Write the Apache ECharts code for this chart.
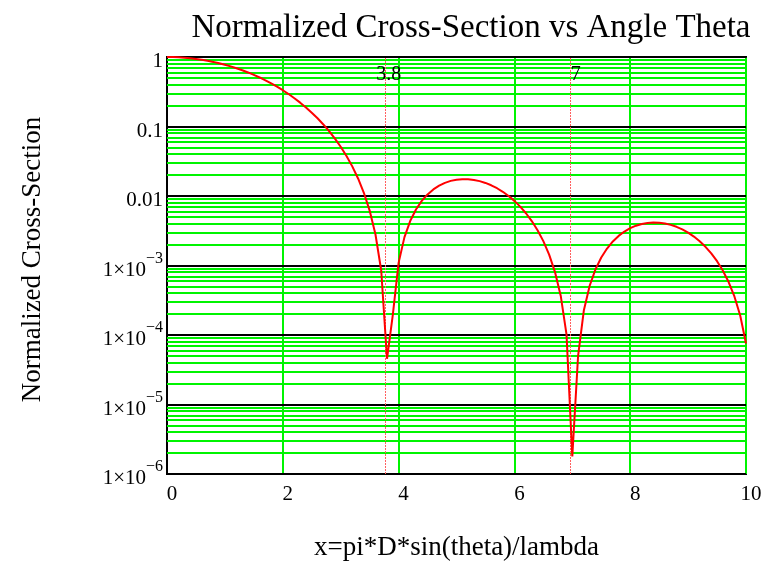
<!DOCTYPE html>
<html>
<head>
<meta charset="utf-8">
<script src="https://cdn.jsdelivr.net/npm/echarts@6/dist/echarts.min.js"></script>
<style>html,body{margin:0;padding:0;background:#fff}#c{width:769px;height:566px}</style>
</head>
<body>
<div id="c"></div>
<script>
var xs = [0,0.1,0.2,0.3,0.4,0.5,0.6,0.7,0.8,0.9,1,1.1,1.2,1.3,1.4,1.5,1.6,1.7,1.8,1.9,2,2.1,2.2,2.3,2.4,2.5,2.6,2.7,2.8,2.9,3,3.1,3.2,3.3,3.4,3.5,3.6,3.7,3.8,3.9,4,4.1,4.2,4.3,4.4,4.5,4.6,4.7,4.8,4.9,5,5.1,5.2,5.3,5.4,5.5,5.6,5.7,5.8,5.9,6,6.1,6.2,6.3,6.4,6.5,6.6,6.7,6.8,6.9,7,7.1,7.2,7.3,7.4,7.5,7.6,7.7,7.8,7.9,8,8.1,8.2,8.3,8.4,8.5,8.6,8.7,8.8,8.9,9,9.1,9.2,9.3,9.4,9.5,9.6,9.7,9.8,9.9,10];
var crossSection = [1,0.9976,0.99003,0.97773,0.96069,0.93912,0.9133,0.8836,0.85027,0.8138,0.77458,0.73305,0.6897,0.64499,0.5994,0.55342,0.50748,0.46203,0.41749,0.37424,0.33261,0.29293,0.25545,0.22038,0.18791,0.15814,0.13117,0.107,0.08564,0.06704,0.05109,0.03769,0.02668,0.01788,0.01112,0.006163,0.002813,0.000847,4.55e-5,1.951e-4,0.00109,0.002538,0.004359,0.006393,0.008496,0.010546,0.012442,0.014103,0.015469,0.016498,0.017169,0.017476,0.017426,0.017044,0.016359,0.015416,0.014257,0.012936,0.011503,0.010009,0.008506,0.007037,0.005645,0.004364,0.003222,0.002241,0.001434,0.00081,0.000368,1.023e-4,1.79e-6,5.02e-5,2.278e-4,5.118e-4,8.779e-4,0.0013008,0.0017554,0.0022178,0.0026658,0.003079,0.003441,0.0037379,0.0039598,0.0041004,0.0041569,0.0041299,0.0040234,0.0038446,0.0036019,0.0033069,0.0029717,0.0026096,0.0022338,0.0018575,0.0014934,0.0011525,8.449e-4,5.784e-4,3.59e-4,1.908e-4,7.56e-5];
var markerX = [3.77, 6.97];
var markerLabels = ['3.8', '7'];
var markerLabelPos = [[3.83, 0.55], [7.06, 0.55]];
var xTicks = [0, 2, 4, 6, 8, 10];
var yDecadeExps = [-6, -5, -4, -3, -2, -1, 0];
var titleText = 'Normalized Cross-Section vs Angle Theta';
var xName = 'x=pi*D*sin(theta)/lambda';
var yName = 'Normalized Cross-Section';

var FONT = "'Liberation Serif','Times New Roman',serif";
var GREEN = '#00f400';
var data = xs.map(function (x, i) { return [x, crossSection[i]]; });

// minor log grid lines (2..9 within each decade), placed on a hidden linear exponent axis
var minorLines = [];
for (var d = 0; d < yDecadeExps.length - 1; d++) {
  for (var k = 2; k <= 9; k++) minorLines.push({ yAxis: yDecadeExps[d] + Math.log10(k) });
}

function yLabel(v) {
  var e = Math.round(Math.log10(v));
  if (e >= -2) return '{b|' + (e === 0 ? '1' : e === -1 ? '0.1' : '0.01') + '}';
  return '{b|1×10}{s|−' + (-e) + '}';
}

var chart = echarts.init(document.getElementById('c'), null, { renderer: 'canvas' });
chart.setOption({
  animation: false,
  backgroundColor: '#fff',
  title: {
    text: titleText, left: 466, top: 7, textAlign: 'center',
    textStyle: { fontFamily: FONT, fontSize: 33, fontWeight: 'normal', color: '#000' }
  },
  grid: { left: 167, right: 23, top: 57, bottom: 90, show: true, borderColor: '#000', borderWidth: 2, backgroundColor: 'transparent' },
  xAxis: {
    type: 'value', min: 0, max: 10, interval: 2,
    name: xName, nameLocation: 'middle', nameGap: 60,
    nameTextStyle: { fontFamily: FONT, fontSize: 27, color: '#000' },
    axisLine: { show: true, lineStyle: { color: '#000', width: 2 } },
    axisTick: { show: false },
    axisLabel: { fontFamily: FONT, fontSize: 21, color: '#000', margin: 10, padding: [0, 0, 0, 10],
      formatter: function (v) { return xTicks.indexOf(v) >= 0 ? String(v) : ''; } },
    splitLine: { show: true, lineStyle: { color: GREEN, width: 2 } }
  },
  yAxis: [{
    type: 'log', logBase: 10, min: 1e-6, max: 1, splitNumber: 6,
    name: yName, nameLocation: 'middle', nameGap: 121, nameRotate: 90,
    nameTextStyle: { fontFamily: FONT, fontSize: 27, color: '#000', padding: [0, 0, 0, 12] },
    axisLine: { show: true, lineStyle: { color: '#000', width: 2 } },
    axisTick: { show: false },
    axisLabel: {
      margin: 4, formatter: yLabel,
      rich: {
        b: { fontFamily: FONT, fontSize: 21, color: '#000', lineHeight: 30, verticalAlign: 'bottom' },
        s: { fontFamily: FONT, fontSize: 16, color: '#000', lineHeight: 30, verticalAlign: 'top' }
      }
    },
    splitLine: { show: true, lineStyle: { color: '#000', width: 2 } },
    z: 3
  }, {
    type: 'value', min: -6, max: 0, show: false,
    splitLine: { show: false }
  }],
  series: [
    {
      type: 'line', data: [], yAxisIndex: 1, silent: true, z: 1,
      markLine: {
        silent: true, symbol: 'none', animation: false, precision: 6,
        label: { show: false },
        lineStyle: { color: GREEN, width: 2, type: 'solid' },
        data: minorLines
      }
    },
    {
      type: 'line', data: data, showSymbol: false, z: 5,
      lineStyle: { color: '#ff0000', width: 2 },
      markLine: {
        silent: true, symbol: 'none', animation: false,
        label: { show: false },
        lineStyle: { color: '#ff6060', width: 1, type: [2, 1] },
        data: markerX.map(function (x) { return { xAxis: x }; })
      },
      markPoint: {
        silent: true, symbol: 'circle', symbolSize: 1, animation: false,
        itemStyle: { color: 'rgba(0,0,0,0)' },
        label: { show: true, position: 'inside', fontFamily: FONT, fontSize: 20, color: '#000',
          formatter: function (p) { return p.name; } },
        data: markerLabelPos.map(function (c, i) { return { name: markerLabels[i], coord: c }; })
      }
    }
  ]
});
</script>
</body>
</html>
